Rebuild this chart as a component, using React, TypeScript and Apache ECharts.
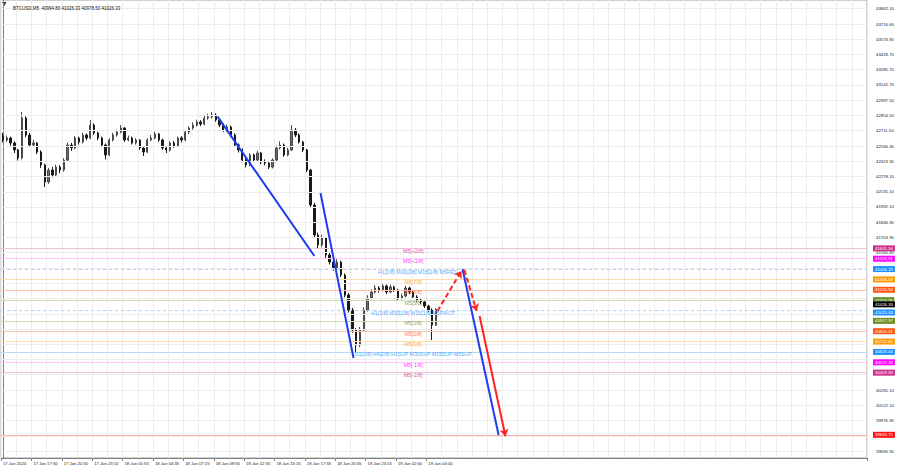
import React, { useEffect, useRef } from "react";
import * as echarts from "echarts";

// ---------- data ----------
const TIME_LABELS = [
  "17 Jan 2024", "17 Jan 17:50", "17 Jan 20:30", "17 Jan 23:10", "18 Jan 01:55",
  "18 Jan 04:35", "18 Jan 07:15", "18 Jan 09:55", "18 Jan 12:35", "18 Jan 15:15",
  "18 Jan 17:55", "18 Jan 20:35", "18 Jan 23:15", "19 Jan 02:00", "19 Jan 04:40",
];
const BARS_PER_LABEL = 8;
const CATEGORY_COUNT = 228;

const OPENS = [
  42660, 42623, 42642, 42595, 42529, 42453, 42830, 42670, 42576, 42595,
  42510, 42387, 42227, 42340, 42293, 42368, 42340, 42434, 42576, 42548,
  42642, 42604, 42670, 42642, 42764, 42689, 42642, 42576, 42482, 42623,
  42670, 42698, 42736, 42623, 42642, 42595, 42623, 42548, 42510, 42623,
  42642, 42680, 42623, 42548, 42529, 42595, 42566, 42642, 42623, 42698,
  42736, 42764, 42793, 42774, 42830, 42840, 42859, 42812, 42764, 42717,
  42746, 42670, 42576, 42529, 42434, 42387, 42482, 42434, 42500, 42416,
  42406, 42368, 42434, 42548, 42576, 42482, 42529, 42717, 42670, 42604,
  42529, 42340, 42010, 41727, 41633, 41699, 41539, 41473, 41416, 41473,
  41350, 41162, 41020, 40832, 40690, 40832, 41020, 41133, 41190, 41228,
  41209, 41247, 41190, 41237, 41209, 41133, 41152, 41228, 41190, 41143,
  41115, 41096, 41058, 41020, 40879,
];
const CLOSES = [
  42623, 42642, 42595, 42529, 42453, 42830, 42670, 42576, 42595, 42510,
  42387, 42227, 42340, 42293, 42368, 42340, 42434, 42576, 42548, 42642,
  42604, 42670, 42642, 42764, 42689, 42642, 42576, 42482, 42623, 42670,
  42698, 42736, 42623, 42642, 42595, 42623, 42548, 42510, 42623, 42642,
  42680, 42623, 42548, 42529, 42595, 42566, 42642, 42623, 42698, 42736,
  42764, 42793, 42774, 42830, 42840, 42859, 42812, 42764, 42717, 42746,
  42670, 42576, 42529, 42434, 42387, 42482, 42434, 42500, 42416, 42406,
  42368, 42434, 42548, 42576, 42482, 42529, 42717, 42670, 42604, 42529,
  42340, 42010, 41727, 41633, 41699, 41539, 41473, 41416, 41473, 41350,
  41162, 41020, 40832, 40690, 40832, 41020, 41133, 41190, 41228, 41209,
  41247, 41190, 41237, 41209, 41133, 41152, 41228, 41190, 41143, 41115,
  41096, 41058, 41020, 40879, 41026.33,
];
const HIGHS = [
  42690, 42665, 42655, 42610, 42540, 42887, 42845, 42690, 42625, 42605,
  42525, 42400, 42360, 42370, 42390, 42385, 42450, 42600, 42595, 42660,
  42655, 42690, 42685, 42811, 42780, 42700, 42655, 42590, 42640, 42690,
  42720, 42764, 42745, 42665, 42655, 42640, 42630, 42560, 42640, 42670,
  42700, 42690, 42635, 42560, 42610, 42615, 42655, 42660, 42715, 42750,
  42790, 42815, 42810, 42850, 42870, 42887, 42875, 42825, 42780, 42770,
  42760, 42685, 42590, 42545, 42450, 42500, 42495, 42520, 42510, 42440,
  42420, 42450, 42570, 42610, 42590, 42550, 42764, 42735, 42685, 42615,
  42540, 42350, 42030, 41750, 41730, 41710, 41560, 41490, 41500, 41485,
  41365, 41180, 41040, 40850, 40860, 41045, 41160, 41215, 41255, 41245,
  41270, 41260, 41258, 41250, 41220, 41175, 41250, 41240, 41200, 41160,
  41130, 41110, 41070, 41035, 41040,
];
const LOWS = [
  42600, 42605, 42570, 42500, 42430, 42440, 42650, 42555, 42560, 42490,
  42360, 42180, 42210, 42270, 42280, 42310, 42325, 42420, 42520, 42535,
  42580, 42590, 42620, 42630, 42670, 42620, 42555, 42440, 42470, 42610,
  42655, 42685, 42605, 42610, 42580, 42580, 42530, 42472, 42500, 42610,
  42630, 42605, 42530, 42500, 42515, 42550, 42555, 42600, 42610, 42680,
  42720, 42750, 42755, 42760, 42815, 42825, 42795, 42745, 42700, 42700,
  42650, 42560, 42505, 42415, 42365, 42375, 42415, 42420, 42395, 42385,
  42350, 42355, 42425, 42535, 42465, 42470, 42520, 42650, 42590, 42510,
  42320, 41990, 41700, 41600, 41615, 41510, 41450, 41390, 41400, 41330,
  41140, 40995, 40805, 40624, 40670, 40815, 41005, 41120, 41175, 41185,
  41195, 41170, 41180, 41190, 41110, 41120, 41140, 41170, 41125, 41095,
  41075, 41040, 41000, 40737, 40870,
];

const GRID_TICKS = [
  43862.1, 43716.6, 43573.9, 43428.7, 43285.7, 43142.7, 42997.5, 42854.5, 42711.5, 42566.3,
  42423.3, 42278.1, 42135.1, 41992.1, 41846.9, 41703.9, 41560.8, 41415.6, 41272.6, 41129.6,
  40984.4, 40841.4, 40698.4, 40553.2, 40410.2, 40265.1, 40122.1, 39976.9, 39833.9, 39690.9,
];
const LABEL_TICKS = [
  43862.1, 43716.6, 43573.9, 43428.7, 43285.7, 43142.7, 42997.5, 42854.5, 42711.5, 42566.3,
  42423.3, 42278.1, 42135.1, 41992.1, 41846.9, 41703.9, 41560.8,
  40265.1, 40122.1, 39976.9, 39690.9,
];

const LEVEL_VALUES = [
  41601.56, 41503.91, 41406.25, 41308.59, 41210.94, 41113.28, 41015.63,
  40917.97, 40820.31, 40722.66, 40625.0, 40527.34, 40429.69,
];
const LEVEL_TEXTS = [
  "M5[+2/8]", "M5[+1/8]", "H1[2/8] M30[2/8] M15[2/8] M5RES", "M5[7/8]", "M5[6/8]", "M5[5/8]",
  "H1[1/8] M30[1/8] M15[1/8] M5PIVOT", "M5[3/8]", "M5[2/8]", "M5[1/8]",
  "D1[2/8] H4[2/8] H1SUP M30SUP M15SUP M5SUP", "M5[-1/8]", "M5[-2/8]",
];
const TARGET_PRICE = 39843.75;
const LAST_PRICE = 41026.33;
const TITLE_TEXT = "BTCUSD,M5  40994.80 41026.33 40978.50 41026.33";

// trend lines: [bar index, price] pairs
const BLUE_TREND_1 = [[56.5, 42843], [82.0, 41529]];
const BLUE_TREND_2 = [[83.6, 42123], [92.3, 40568]];
const BLUE_TREND_3 = [[121.0, 41407], [130.5, 39842]];
const RED_DASH_UP = [[114.4, 41011], [120.7, 41388]];
const RED_DASH_DOWN = [[121.5, 41397], [124.7, 41011]];
const RED_SOLID_DOWN = [[125.5, 40964], [132.3, 39830]];

// ---------- styles ----------
const Y_MIN = 39625;
const Y_MAX = 43943;
const LEVEL_COLORS = [
  "#CC2E8A", "#FF00FF", "#1E90FF", "#FF9900", "#FF5511", "#6B8E23", "#1E90FF",
  "#6B8E23", "#FF5511", "#FF9900", "#1E90FF", "#FF00FF", "#CC2E8A",
];
const LEVEL_LINE_COLORS = [
  "#f2bfdc", "#ffc4ff", "#a9d2ff", "#ffdcaa", "#ffc2ad", "#cfdcb4", "#a9d2ff",
  "#cfdcb4", "#ffc2ad", "#ffdcaa", "#b9dbff", "#ffc4ff", "#f2bfdc",
];
const LEVEL_DASHED = [false, false, true, false, false, false, true, false, false, false, false, false, false];
const FONT = "'Liberation Sans', Arial, sans-serif";
const LABEL_X = 108;

export default function App() {
  const ref = useRef<HTMLDivElement>(null);

  useEffect(() => {
    if (!ref.current) return;
    const chart = echarts.init(ref.current, undefined, { renderer: "svg" });

    const categories = Array.from({ length: CATEGORY_COUNT }, (_, i) =>
      i % BARS_PER_LABEL === 0 && i / BARS_PER_LABEL < TIME_LABELS.length
        ? TIME_LABELS[i / BARS_PER_LABEL]
        : "b" + i
    );
    const showLabel = (i: number) =>
      i % BARS_PER_LABEL === 0 && i / BARS_PER_LABEL < TIME_LABELS.length;

    const candles = CLOSES.map((c, i) => [OPENS[i], c, LOWS[i], HIGHS[i]]);

    const boxLabel = (v: number, bg: string, extra: any = {}) => ({
      show: true,
      position: "end",
      formatter: v.toFixed(2),
      color: "#ffffff",
      backgroundColor: bg,
      padding: [1, 2, 1, 2],
      fontSize: 4.3,
      fontFamily: FONT,
      distance: 6,
      opacity: 1,
      ...extra,
    });

    const levelLines: any[] = LEVEL_VALUES.map((v, i) => ({
      yAxis: v,
      lineStyle: {
        color: LEVEL_LINE_COLORS[i],
        width: 1,
        type: LEVEL_DASHED[i] ? [3, 3] : "solid",
      },
      label: boxLabel(v, LEVEL_COLORS[i], i === 6 ? { offset: [0, 2] } : {}),
    }));
    levelLines.push({
      yAxis: TARGET_PRICE,
      lineStyle: { color: "#ffb0b0", width: 1, type: "solid" },
      label: boxLabel(TARGET_PRICE, "#FF1010"),
    });
    levelLines.push({
      yAxis: LAST_PRICE,
      lineStyle: { color: "rgba(0,0,0,0)", width: 1 },
      label: boxLabel(LAST_PRICE, "#000000", { offset: [0, -5] }),
    });

    const seg = (pts: number[][], color: string, dashed: boolean, arrowEnd: boolean) => ({
      type: "line",
      xAxisIndex: 1,
      yAxisIndex: 0,
      data: [],
      z: 5,
      silent: true,
      markLine: {
        silent: true,
        animation: false,
        symbol: ["none", arrowEnd ? "arrow" : "none"],
        symbolSize: 7,
        label: { show: false },
        lineStyle: { color, width: 2, type: dashed ? [5, 3] : "solid" },
        emphasis: { disabled: true },
        data: [[{ coord: pts[0] }, { coord: pts[1] }]],
      },
    });

    const option: any = {
      animation: false,
      backgroundColor: "#ffffff",
      textStyle: { fontFamily: FONT },
      title: {
        text: TITLE_TEXT,
        left: 8,
        top: 1,
        textStyle: { fontSize: 4.5, fontWeight: "normal", color: "#111", fontFamily: FONT },
      },
      graphic: [
        {
          type: "polygon",
          shape: { points: [[2, 2], [6.5, 2], [4.25, 6]] },
          style: { fill: "#333" },
        },
      ],
      grid: {
        left: 0,
        right: 33,
        top: 0,
        bottom: 10,
        show: true,
        borderColor: "#a0a0a0",
        borderWidth: 1,
        backgroundColor: "#ffffff",
      },
      xAxis: [
        {
          type: "category",
          data: categories,
          boundaryGap: true,
          axisLine: { show: true, lineStyle: { color: "#808080" } },
          axisTick: { show: true, interval: (i: number) => showLabel(i), length: 3, lineStyle: { color: "#808080" } },
          axisLabel: {
            interval: (i: number) => showLabel(i),
            align: "left",
            fontSize: 4.2,
            color: "#222",
            margin: 3,
            fontFamily: FONT,
          },
          splitLine: { show: true, interval: 3, lineStyle: { color: "#ededed", width: 1 } },
        },
        {
          type: "value",
          min: -0.5,
          max: CATEGORY_COUNT - 0.5,
          show: false,
        },
      ],
      yAxis: {
        type: "value",
        position: "right",
        min: Y_MIN,
        max: Y_MAX,
        axisLine: { show: true, lineStyle: { color: "#808080" } },
        axisTick: { show: true, length: 3, customValues: GRID_TICKS, lineStyle: { color: "#808080" } },
        axisLabel: {
          customValues: LABEL_TICKS,
          fontSize: 4.3,
          color: "#222",
          margin: 9,
          fontFamily: FONT,
          formatter: (v: number) => v.toFixed(2),
        },
        splitLine: { show: false },
      },
      series: [
        {
          type: "line",
          data: [],
          silent: true,
          z: 1,
          markLine: {
            silent: true,
            animation: false,
            symbol: ["none", "none"],
            label: { show: false },
            lineStyle: { color: "#ececec", width: 1, type: "solid" },
            data: GRID_TICKS.map((v) => ({ yAxis: v })),
          },
        },
        {
          type: "line",
          data: [],
          silent: true,
          z: 3,
          markLine: {
            silent: true,
            animation: false,
            symbol: ["none", "none"],
            emphasis: { disabled: true },
            data: levelLines,
          },
        },
        {
          type: "candlestick",
          data: candles,
          barWidth: 1.8,
          z: 4,
          silent: true,
          itemStyle: {
            color: "#6a6a6a",
            color0: "#1a1a1a",
            borderColor: "#4a4a4a",
            borderColor0: "#1a1a1a",
            borderWidth: 1,
          },
        },
        seg(BLUE_TREND_1, "#1f3cf0", false, false),
        seg(BLUE_TREND_2, "#1f3cf0", false, false),
        seg(BLUE_TREND_3, "#1f3cf0", false, false),
        seg(RED_DASH_UP, "#ff2222", true, true),
        seg(RED_DASH_DOWN, "#ff2222", true, true),
        seg(RED_SOLID_DOWN, "#ff2222", false, true),
        {
          type: "scatter",
          xAxisIndex: 1,
          yAxisIndex: 0,
          symbolSize: 0,
          silent: true,
          z: 6,
          label: {
            show: true,
            position: "inside",
            formatter: "{b}",
            fontSize: 5.2,
            fontFamily: FONT,
          },
          data: LEVEL_TEXTS.map((t, i) => ({
            name: t,
            value: [LABEL_X, LEVEL_VALUES[i]],
            label: { color: LEVEL_COLORS[i], offset: i === 2 ? [4.5, 2.5] : [0, 2.5] },
          })),
        },
      ],
    };

    chart.setOption(option);
    return () => chart.dispose();
  }, []);

  return (
    <div
      ref={ref}
      style={{ position: "fixed", left: 0, top: 0, width: 900, height: 468, background: "#fff" }}
    />
  );
}
